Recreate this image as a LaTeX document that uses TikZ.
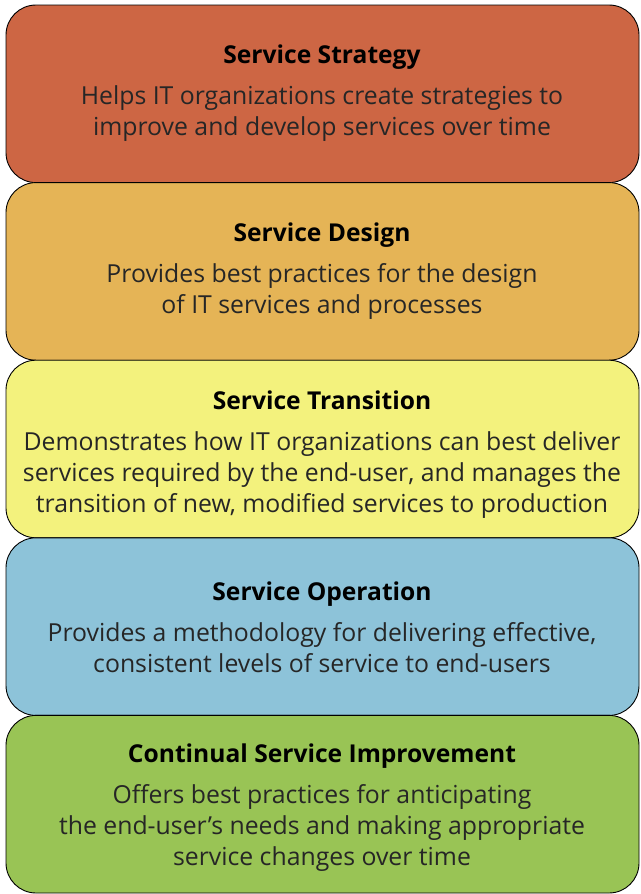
\documentclass[tikz,border=0pt]{standalone}
\usepackage{fontspec}
\setmainfont{Open Sans}
\usepackage{tikz}

\definecolor{strategy}{HTML}{CD6644}
\definecolor{design}{HTML}{E5B456}
\definecolor{transition}{HTML}{F3F27D}
\definecolor{operation}{HTML}{8DC3D9}
\definecolor{improve}{HTML}{99C455}
\definecolor{bodytext}{HTML}{262626}

\tikzset{
	phase/.style={draw=black,line width=0.9pt,rounded corners=30pt,minimum width=633pt,minimum height=177.6pt,inner sep=0pt},
	phasetext/.style={align=center,font=\fontsize{24.8}{31}\selectfont,text=bodytext},
}
\newcommand{\phasetitle}[1]{{\bfseries\color{black}\fontsize{24.6}{31}\selectfont #1}\\[10pt]}

\begin{document}
\begin{tikzpicture}[x=1pt,y=-1pt]
			\useasboundingbox (0,0) rectangle (640,894);
			\node[phase,fill=strategy] (strategy) at (322.5,93.8) {};
			\node[phase,fill=design] (design) at (322.5,271.4) {};
			\node[phase,fill=transition] (transition) at (322.5,449) {};
			\node[phase,fill=operation] (operation) at (322.5,626.6) {};
			\node[phase,fill=improve] (improve) at (322.5,804.2) {};
			
			\node[phasetext] (strategytext) at (322,93) {\phasetitle{Service Strategy}Helps IT organizations create strategies to\\improve and develop services over time};
			\node[phasetext] (designtext) at (322,271) {\phasetitle{Service Design}Provides best practices for the design\\of IT services and processes};
			\node[phasetext] (transitiontext) at (322,455) {\phasetitle{Service Transition}Demonstrates how IT organizations can best deliver\\services required by the end-user, and manages the\\transition of new, modified services to production};
			\node[phasetext] (operationtext) at (322,627) {\phasetitle{Service Operation}Provides a methodology for delivering effective,\\consistent levels of service to end-users};
			\node[phasetext] (improvetext) at (322,808) {\phasetitle{Continual Service Improvement}Offers best practices for anticipating\\the end-user’s needs and making appropriate\\service changes over time};
		\end{tikzpicture}
\end{document}
